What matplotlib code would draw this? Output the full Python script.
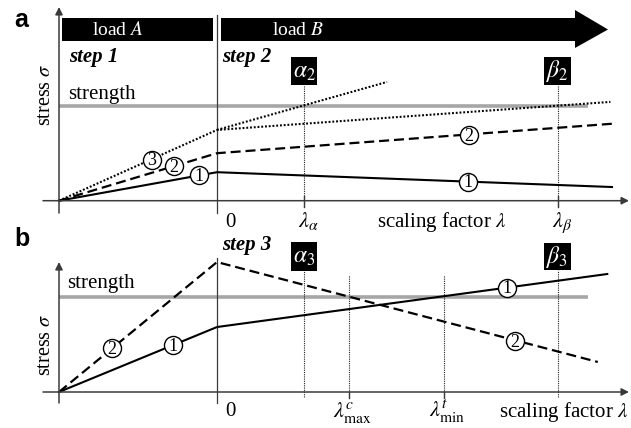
import matplotlib
matplotlib.use("Agg")
import matplotlib.pyplot as plt
from matplotlib.patches import Rectangle, Polygon

plt.rcParams['mathtext.fontset'] = 'stix'
SERIF = 'Liberation Serif'

# ---------------- data (x: scaling coordinate, step A spans -1..0; y: stress / strength) -------------
# panel a
a_line1_x = [-1.0, 0.0, 2.50]
a_line1_y = [0.0, 0.30, 0.144]
a_line2_x = [-1.0, 0.0, 2.50]
a_line2_y = [0.0, 0.50, 0.81]
a_line3_x = [-1.0, 0.0, 2.49]
a_line3_y = [0.0, 0.745, 1.04]
a_line3b_x = [0.0, 1.076]
a_line3b_y = [0.745, 1.25]
a_strength = 1.0
a_strength_x = [-1.0, 2.35]
a_lambda_alpha = 0.55
a_lambda_beta = 2.16
a_circ_x = [-0.114, -0.272, -0.411, 1.589, 1.595]
a_circ_y = [0.266, 0.364, 0.43, 0.20, 0.69]
a_circ_lab = ['1', '2', '3', '1', '2']

# panel b
b_line1_x = [-1.0, 0.0, 2.47]
b_line1_y = [0.0, 0.684, 1.242]
b_line2_x = [-1.0, 0.0, 2.41]
b_line2_y = [0.0, 1.368, 0.316]
b_strength = 1.0
b_strength_x = [-1.0, 2.35]
b_lambda_alpha = 0.55
b_lambda_beta = 2.16
b_lambda_cmax = 0.835
b_lambda_tmin = 1.437
b_circ_x = [-0.665, -0.278, 1.835, 1.886]
b_circ_y = [0.462, 0.494, 1.095, 0.535]
b_circ_lab = ['2', '1', '1', '2']

# ---------------- figure --------------
W, H = 631, 428
fig = plt.figure(figsize=(W / 100, H / 100), dpi=100)

# pixel overlay axes for layout items
axP = fig.add_axes([0, 0, 1, 1])
axP.set_xlim(0, W); axP.set_ylim(H, 0); axP.axis('off')

X0, XS = 217.0, 158.0   # pixel of x=0, pixels per unit
YS = 95.0
XL = (-X0 / XS, (W - X0) / XS)

axA = fig.add_axes([0, 0, 1, 1])
axA.set_xlim(*XL); axA.set_ylim((200.7 - H) / YS, 200.7 / YS); axA.axis('off')
axA.patch.set_alpha(0)
axB = fig.add_axes([0, 0, 1, 1])
axB.set_xlim(*XL); axB.set_ylim((392.0 - H) / YS, 392.0 / YS); axB.axis('off')
axB.patch.set_alpha(0)

AXC = '#3a3a3a'
GRAY = '#a6a6a6'

def axes_frame(ax, ytop, ybot, divtop, divbot):
    ax.annotate('', xy=(XL[0] + (629 - 0) / XS, 0), xytext=(XL[0] + 43 / XS, 0),
                arrowprops=dict(arrowstyle='-|>', lw=1.1, color=AXC, mutation_scale=11,
                                shrinkA=0, shrinkB=0))
    ax.annotate('', xy=(-1, ytop), xytext=(-1, ybot),
                arrowprops=dict(arrowstyle='-|>', lw=1.1, color=AXC, mutation_scale=11,
                                shrinkA=0, shrinkB=0))
    ax.plot([0, 0], [divbot, divtop], color=AXC, lw=0.9)

def circles(ax, xs, ys, labs):
    ax.plot(xs, ys, 'o', ms=13, mfc='white', mec='black', mew=1.0, zorder=5)
    for x, y, t in zip(xs, ys, labs):
        ax.text(x, y - 0.01, t, ha='center', va='center', fontsize=13, family=SERIF, zorder=6)

# ---- panel a ----
axA.plot(a_strength_x, [a_strength] * 2, color=GRAY, lw=2.6, solid_capstyle='butt', zorder=1)
axes_frame(axA, (200.7 - 7) / YS, (200.7 - 213) / YS, (200.7 - 15) / YS, (200.7 - 213) / YS)
for lx, top in [(a_lambda_alpha, (200.7 - 85) / YS), (a_lambda_beta, (200.7 - 85) / YS)]:
    axA.plot([lx, lx], [(200.7 - 207) / YS, top], color='#222222', lw=0.8, ls=(0, (1, 1)))
    axA.plot([lx, lx], [(200.7 - 207) / YS, (200.7 - 196) / YS], color=AXC, lw=1.0)
axA.plot(a_line1_x, a_line1_y, color='black', lw=1.5)
axA.plot(a_line2_x, a_line2_y, color='black', lw=1.6, ls=(0, (4.5, 2.2)))
axA.plot(a_line3_x, a_line3_y, color='black', lw=1.5, ls=(0, (0.9, 0.9)))
axA.plot(a_line3b_x, a_line3b_y, color='black', lw=1.5, ls=(0, (0.9, 0.9)))
circles(axA, a_circ_x, a_circ_y, a_circ_lab)

# ---- panel b ----
axB.plot(b_strength_x, [b_strength] * 2, color=GRAY, lw=2.6, solid_capstyle='butt', zorder=1)
axes_frame(axB, (392 - 262) / YS, (392 - 403) / YS, (392 - 258) / YS, (392 - 403) / YS)
for lx, top in [(b_lambda_alpha, (392 - 271) / YS), (b_lambda_beta, (392 - 270) / YS),
                (b_lambda_cmax, (392 - 275) / YS), (b_lambda_tmin, (392 - 275) / YS)]:
    axB.plot([lx, lx], [(392 - 397) / YS, top], color='#222222', lw=0.8, ls=(0, (1, 1)))
for lx in [b_lambda_cmax, b_lambda_tmin]:
    axB.plot([lx, lx], [(392 - 398) / YS, 0], color=AXC, lw=1.0)
axB.plot(b_line1_x, b_line1_y, color='black', lw=1.5)
axB.plot(b_line2_x, b_line2_y, color='black', lw=1.6, ls=(0, (4.5, 2.2)))
circles(axB, b_circ_x, b_circ_y, b_circ_lab)

# ---- layout items in pixel space ----
axP.add_patch(Rectangle((62, 18), 151, 23, color='black', lw=0))
axP.add_patch(Polygon([(221, 18), (575, 18), (575, 10), (608, 29.5), (575, 48),
                       (575, 41), (221, 41)], closed=True, color='black', lw=0))
axP.text(118, 30, 'load $A$', color='white', ha='center', va='center', fontsize=14, family=SERIF)
axP.text(298, 30, 'load $B$', color='white', ha='center', va='center', fontsize=14, family=SERIF)

for (x0, y0, x1, y1, lab) in [(291, 57, 317, 85, r'$\alpha_2$'), (544, 57, 571, 85, r'$\beta_2$'),
                              (291, 242, 317, 271, r'$\alpha_3$'), (544, 243, 571, 270, r'$\beta_3$')]:
    axP.add_patch(Rectangle((x0, y0), x1 - x0, y1 - y0, color='black', lw=0))
    axP.text((x0 + x1) / 2, (y0 + y1) / 2, lab, color='white', ha='center', va='center', fontsize=17)

for x, y, t in [(69, 57, 'step 1'), (222, 57, 'step 2'), (222, 245, 'step 3')]:
    axP.text(x, y, t, ha='left', va='center', fontsize=15, family=SERIF,
             fontweight='bold', fontstyle='italic')

axP.text(68, 99, 'strength', ha='left', va='baseline', fontsize=15, family=SERIF)
axP.text(67, 288, 'strength', ha='left', va='baseline', fontsize=15, family=SERIF)

axP.text(46, 95, r'stress $\sigma$', rotation=90, ha='center', va='center', fontsize=14.5, family=SERIF)
axP.text(46, 345, r'stress $\sigma$', rotation=90, ha='center', va='center', fontsize=14.5, family=SERIF)

axP.text(230, 227, '0', ha='center', va='baseline', fontsize=15, family=SERIF)
axP.text(308, 227, r'$\lambda_\alpha$', ha='center', va='baseline', fontsize=16)
axP.text(442, 227, r'scaling factor $\lambda$', ha='center', va='baseline', fontsize=15, family=SERIF)
axP.text(562, 227, r'$\lambda_\beta$', ha='center', va='baseline', fontsize=16)

axP.text(230, 416, '0', ha='center', va='baseline', fontsize=15, family=SERIF)
axP.text(352, 417, r'$\lambda^{c}_{\mathrm{max}}$', ha='center', va='baseline', fontsize=16)
axP.text(447, 417, r'$\lambda^{t}_{\mathrm{min}}$', ha='center', va='baseline', fontsize=16)
axP.text(564, 417, r'scaling factor $\lambda$', ha='center', va='baseline', fontsize=15, family=SERIF)

axP.text(21, 20, 'a', ha='center', va='center', fontsize=18, fontweight='bold', family='Liberation Sans')
axP.text(22, 239, 'b', ha='center', va='center', fontsize=18, fontweight='bold', family='Liberation Sans')

fig.savefig('out.png', dpi=100)
